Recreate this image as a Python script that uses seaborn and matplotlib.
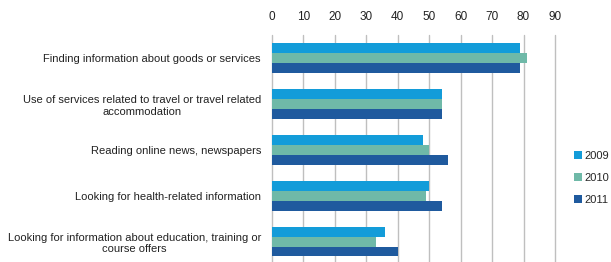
import matplotlib
matplotlib.use("Agg")
import matplotlib.pyplot as plt
import seaborn as sns
import pandas as pd

categories = [
    "Finding information about goods or services",
    "Use of services related to travel or travel related\naccommodation",
    "Reading online news, newspapers",
    "Looking for health-related information",
    "Looking for information about education, training or\ncourse offers",
]
years = ["2009", "2010", "2011"]
v2009 = [79, 54, 48, 50, 36]
v2010 = [81, 54, 50, 49, 33]
v2011 = [79, 54, 56, 54, 40]

rows = []
for y, vals in zip(years, [v2009, v2010, v2011]):
    for c, v in zip(categories, vals):
        rows.append({"cat": c, "year": y, "value": v})
df = pd.DataFrame(rows)

sns.set_theme(style="white")
plt.rcParams["font.family"] = ["Liberation Sans", "DejaVu Sans"]

colors = ["#139CD9", "#6FB9A8", "#1F5A9E"]
fs = 8.0
fig = plt.figure(figsize=(6.11, 2.62), dpi=100)
ax = fig.add_axes([272 / 611, -0.0095, (555 - 272) / 611, 0.8755])
sns.barplot(data=df, y="cat", x="value", hue="year", palette=colors,
            order=categories, hue_order=years, width=0.65, ax=ax,
            saturation=1, orient="h", linewidth=0)
ax.set_xlim(0, 90)
ax.set_xticks(range(0, 91, 10))
ax.xaxis.tick_top()
ax.tick_params(axis="x", length=0, pad=9, labelsize=8.5, colors="#222222")
ax.tick_params(axis="y", length=0, pad=8, labelsize=fs, colors="#222222")
for lab in ax.get_yticklabels():
    lab.set_multialignment("center")
ax.grid(axis="x", color="#BFBFBF", linewidth=1.0)
for gl in ax.get_xgridlines():
    gl.set_clip_on(False)
ax.set_axisbelow(True)
for s in ax.spines.values():
    s.set_visible(False)
ax.set_xlabel("")
ax.set_ylabel("")
leg = ax.legend(loc="center left", bbox_to_anchor=(570 / 611, 1 - 178 / 262),
                bbox_transform=fig.transFigure, frameon=False, fontsize=fs,
                handlelength=0.7, handleheight=0.7, handletextpad=0.2,
                labelspacing=1.1, borderaxespad=0)
fig.savefig("out.png", dpi=100)
